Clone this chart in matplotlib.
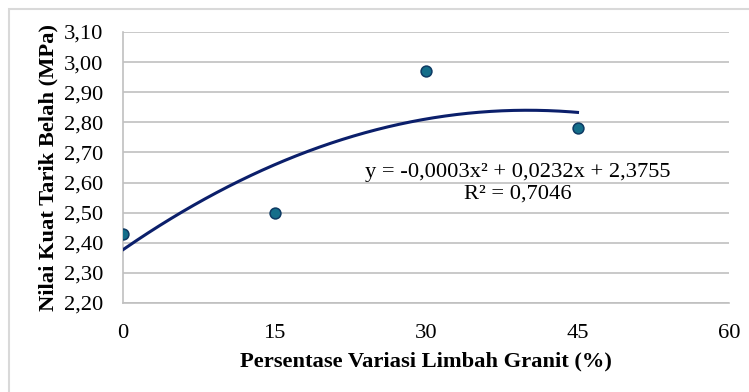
import numpy as np
import matplotlib
matplotlib.use("Agg")
import matplotlib.pyplot as plt
from matplotlib.patches import Rectangle
from matplotlib.ticker import FuncFormatter, FixedLocator

x_vals = [0, 15, 30, 45]
y_vals = [2.43, 2.50, 2.97, 2.78]
x_ticks = [0, 15, 30, 45, 60]
y_ticks = [2.20, 2.30, 2.40, 2.50, 2.60, 2.70, 2.80, 2.90, 3.00, 3.10]
eq_text = "y = -0,0003x² + 0,0232x + 2,3755\nR² = 0,7046"

plt.rcParams['font.family'] = ['Liberation Serif', 'DejaVu Serif']

W, H = 749, 392
FS = 16.2
fig = plt.figure(figsize=(W / 100, H / 100), dpi=100)
ax = fig.add_axes([123 / W, 1 - 303 / H, (729 - 123) / W, (303 - 32) / H])

# outer frame (left and top edges visible)
fig.patches.append(Rectangle((9 / W, -0.1), 1.2, (H - 9) / H + 0.1, transform=fig.transFigure,
                             fill=False, edgecolor='#D9D9D9', linewidth=1.5))

coef = np.polyfit(x_vals, y_vals, 2)
xs = np.linspace(0, 45, 200)
ax.plot(xs, np.polyval(coef, xs), color='#0B1F6B', linewidth=2.2, zorder=3)
ax.plot(x_vals, y_vals, linestyle='none', marker='o', markersize=7.8,
        markerfacecolor='#146E8A', markeredgecolor='#0D3A63', markeredgewidth=1.1, zorder=4)

ax.set_xlim(0, 60)
ax.set_ylim(2.20, 3.10)
ax.xaxis.set_major_locator(FixedLocator(x_ticks))
ax.yaxis.set_major_locator(FixedLocator(y_ticks))
ax.yaxis.set_major_formatter(FuncFormatter(lambda v, p: f"{v:.2f}".replace('.', ',')))
ax.grid(axis='y', color='#C0C0C0', linewidth=1.2)
ax.set_axisbelow(True)
for s in ['top', 'right']:
    ax.spines[s].set_visible(False)
for s in ['left', 'bottom']:
    ax.spines[s].set_color('#C0C0C0')
    ax.spines[s].set_linewidth(1.2)
ax.tick_params(length=0, labelsize=FS, colors='black')
ax.tick_params(axis='x', pad=15)
ax.tick_params(axis='y', pad=14)

ax.set_xlabel("Persentase Variasi Limbah Granit (%)", fontsize=FS, fontweight='bold', labelpad=6)
ax.set_ylabel("Nilai Kuat Tarik Belah (MPa)", fontsize=FS, fontweight='bold', labelpad=4)

fig.text(518 / W, 1 - 183 / H, eq_text, fontsize=FS, ha='center', va='center',
         linespacing=1.2)

fig.savefig("out.png", dpi=100)
